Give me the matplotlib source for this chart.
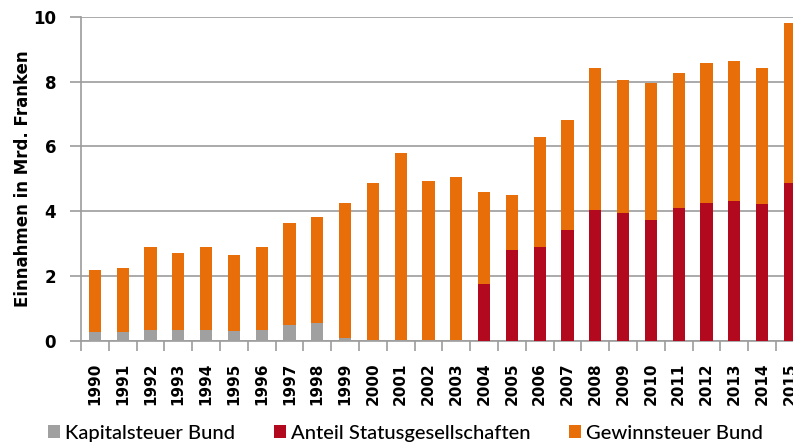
import matplotlib
matplotlib.use("Agg")
import matplotlib.pyplot as plt
import numpy as np

years = [str(y) for y in range(1990, 2016)]
kapitalsteuer = [0.26, 0.26, 0.34, 0.34, 0.34, 0.29, 0.34, 0.48, 0.53, 0.09,
                 0.01, 0.01, 0.01, 0.01, 0, 0, 0, 0, 0, 0, 0, 0, 0, 0, 0, 0]
status = [0, 0, 0, 0, 0, 0, 0, 0, 0, 0, 0, 0, 0, 0,
          1.75, 2.80, 2.88, 3.42, 4.02, 3.93, 3.73, 4.11, 4.26, 4.30, 4.22, 4.87]
totals = [2.18, 2.23, 2.88, 2.69, 2.88, 2.64, 2.88, 3.64, 3.83, 4.26,
          4.87, 5.81, 4.92, 5.06, 4.58, 4.50, 6.29, 6.81, 8.42, 8.05,
          7.96, 8.28, 8.57, 8.65, 8.42, 9.80]
gewinnsteuer = [t - k - s for t, k, s in zip(totals, kapitalsteuer, status)]

labels = ["Kapitalsteuer Bund", "Anteil Statusgesellschaften", "Gewinnsteuer Bund"]
colors = ["#A0A0A0", "#B2091F", "#E86E0A"]

W, H = 793, 444
fig = plt.figure(figsize=(W / 100, H / 100), dpi=100)
ax = fig.add_axes([81 / W, 1 - 340.5 / H, 722.8 / W, (340.5 - 17) / H])

x = np.arange(len(years))
bw = 0.44
k = np.array(kapitalsteuer)
s = np.array(status)
g = np.array(gewinnsteuer)
b1 = ax.bar(x, k, bw, color=colors[0], label=labels[0], zorder=3)
b2 = ax.bar(x, s, bw, bottom=k, color=colors[1], label=labels[1], zorder=3)
b3 = ax.bar(x, g, bw, bottom=k + s, color=colors[2], label=labels[2], zorder=3)

ax.set_xlim(-0.5, len(years) - 0.5)
ax.set_ylim(0, 10)
ax.set_yticks([0, 2, 4, 6, 8, 10])
ax.yaxis.grid(True, color="#9C9C9C", linewidth=1.2, zorder=0)
ax.set_axisbelow(True)

for side in ["top", "right"]:
    ax.spines[side].set_visible(False)
for side in ["left", "bottom"]:
    ax.spines[side].set_color("#9C9C9C")
    ax.spines[side].set_linewidth(1.2)

ax.set_xticks(x)
ax.set_xticklabels(years, rotation=90, fontweight="bold", fontsize=11,
                   family="DejaVu Sans")
ax.set_xticks(np.arange(-0.5, len(years)), minor=True)
ax.tick_params(axis="x", which="major", length=0, pad=16)
ax.tick_params(axis="x", which="minor", length=7, color="#9C9C9C", width=1.2)
ax.tick_params(axis="y", length=8, color="#9C9C9C", width=1.2, pad=10,
               labelsize=12)
for t in ax.get_yticklabels():
    t.set_fontweight("bold")

ax.set_ylabel("Einnahmen in Mrd. Franken", fontsize=12, fontweight="bold",
              labelpad=1)

leg = fig.legend(handles=[b1, b2, b3], labels=labels, loc="center",
                 bbox_to_anchor=(405.5 / W, 1 - 433 / H), ncol=3, frameon=False,
                 handlelength=0.6, handleheight=0.6, handletextpad=0.25,
                 columnspacing=1.9,
                 prop={"family": "Lato", "size": 14.5, "weight": "medium"})

fig.savefig("out.png", dpi=100)
